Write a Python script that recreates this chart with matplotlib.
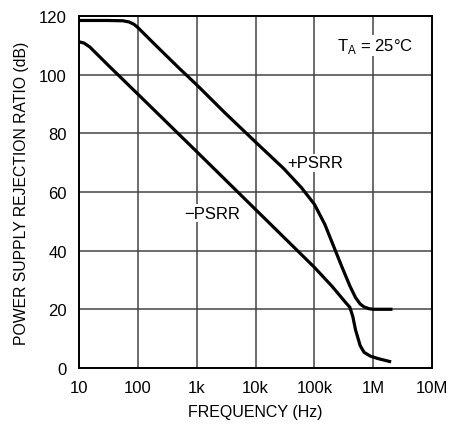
import matplotlib
matplotlib.use("Agg")
import matplotlib.pyplot as plt

plt.rcParams['font.family'] = ['Liberation Sans', 'DejaVu Sans']

# datos
freq_pos = [10, 30, 55, 70, 85, 100, 200, 500, 1e3, 3e3, 1e4, 3e4, 6e4, 1e5,
            1.5e5, 2.1e5, 3e5, 4e5, 5e5, 6e5, 7e5, 8.5e5, 1e6, 2e6]
psrr_pos = [118.5, 118.5, 118.4, 118.0, 117.2, 116.0, 110.0, 102.2, 96.5, 87.0,
            77.0, 68.0, 61.5, 55.8, 49.0, 41.7, 34.0, 28.0, 24.0, 21.8, 20.8,
            20.2, 20.0, 20.0]

freq_neg = [10, 12, 15, 20, 30, 100, 1e3, 1e4, 1e5, 2e5, 3.5e5, 4e5, 4.5e5,
            5e5, 6e5, 7e5, 9e5, 1.2e6, 1.9e6]
psrr_neg = [111.2, 110.8, 109.5, 107.0, 103.5, 93.3, 73.7, 54.0, 34.3, 27.8,
            22.0, 20.7, 17.5, 13.0, 7.6, 5.3, 4.0, 3.2, 2.2]

x_ticks = [10, 100, 1e3, 1e4, 1e5, 1e6, 1e7]
x_labels = ['10', '100', '1k', '10k', '100k', '1M', '10M']
y_ticks = [0, 20, 40, 60, 80, 100, 120]

fig = plt.figure(figsize=(4.64, 4.27), dpi=100)
ax = fig.add_axes([0.171, 0.136, 0.760, 0.824])

ax.plot(freq_pos, psrr_pos, color='black', linewidth=2.3, solid_joinstyle='round', zorder=3)
ax.plot(freq_neg, psrr_neg, color='black', linewidth=2.3, solid_joinstyle='round', zorder=3)

ax.set_xscale('log')
ax.set_xlim(10, 1e7)
ax.set_ylim(0, 120)
ax.set_xticks(x_ticks)
ax.set_xticklabels(x_labels)
ax.set_yticks(y_ticks)
ax.minorticks_off()
ax.tick_params(length=0, labelsize=12)
ax.tick_params(axis='x', pad=9)
ax.tick_params(axis='y', pad=9)
ax.grid(True, color='#444444', linewidth=1.1)
for s in ax.spines.values():
    s.set_linewidth(1.4)

ax.set_xlabel('FREQUENCY (Hz)', fontsize=11.5, labelpad=6)
ax.set_ylabel('POWER SUPPLY REJECTION RATIO (dB)', fontsize=11.3, labelpad=7)

caja = dict(facecolor='white', edgecolor='none', pad=1)
ax.text(1.05e5, 70, '+PSRR', fontsize=12, ha='center', va='center', bbox=caja, zorder=2)
ax.text(1.8e3, 52.8, '\u2212PSRR', fontsize=12, ha='center', va='center', bbox=caja, zorder=2)
ax.text(1.07e6, 110, r'T$_\mathregular{A}$ = 25°C', fontsize=12, ha='center', va='center',
        bbox=caja, zorder=2)

fig.savefig('out.png', dpi=100)
